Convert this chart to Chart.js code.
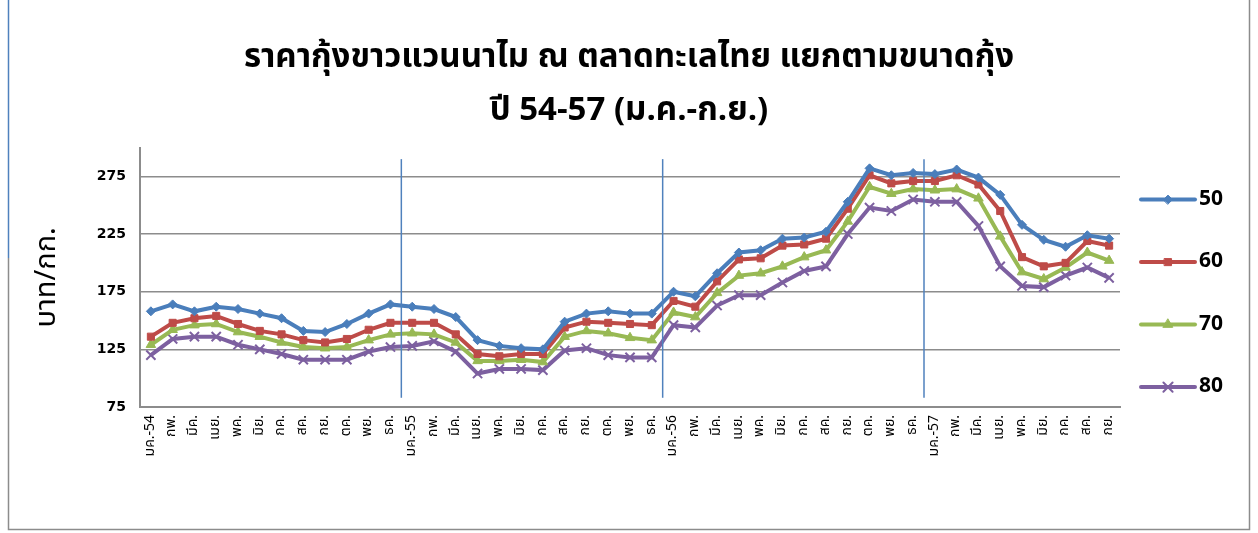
<!DOCTYPE html>
<html><head><meta charset="utf-8">
<script src="https://cdn.jsdelivr.net/npm/chart.js@4.4.1/dist/chart.umd.min.js"></script>
<style>html,body{margin:0;padding:0;background:#fff}#wrap{width:1258px;height:533px;position:relative}</style>
</head><body><div id="wrap"><canvas id="c" width="1258" height="533"></canvas></div>
<script>
const categories = ['มค.-54','กพ.','มีค.','เมย.','พค.','มิย.','กค.','สค.','กย.','ตค.','พย.','ธค.',
  'มค.-55','กพ.','มีค.','เมย.','พค.','มิย.','กค.','สค.','กย.','ตค.','พย.','ธค.',
  'มค.-56','กพ.','มีค.','เมย.','พค.','มิย.','กค.','สค.','กย.','ตค.','พย.','ธค.',
  'มค.-57','กพ.','มีค.','เมย.','พค.','มิย.','กค.','สค.','กย.'];
const seriesNames = ['50','60','70','80'];
const size50 = [158,164,158,162,160,156,152,141,140,147,156,164, 162,160,153,133,128,126,125,149,156,158,156,156, 175,171,191,209,211,221,222,227,253,282,276,278, 277,281,274,259,233,220,214,224,221];
const size60 = [136,148,152,154,147,141,138,133,131,134,142,148, 148,148,138,121,119,121,121,144,149,148,147,146, 167,162,184,203,204,215,216,221,247,276,269,271, 271,276,268,245,205,197,200,219,215];
const size70 = [129,142,146,147,140,136,131,127,126,127,133,138, 139,138,131,115,115,116,114,136,141,139,135,133, 157,153,174,189,191,197,205,211,236,266,260,264, 263,264,256,223,192,186,196,209,202];
const size80 = [120,134,136,136,129,125,121,116,116,116,123,127, 128,132,123,104,108,108,107,124,126,120,118,118, 146,144,163,172,172,183,193,197,225,248,245,255, 253,253,232,197,180,179,189,196,187];
const yTicks = [75,125,175,225,275];
const titleLines = ['ราคากุ้งขาวแวนนาไม ณ ตลาดทะเลไทย แยกตามขนาดกุ้ง','ปี 54-57 (ม.ค.-ก.ย.)'];
const yAxisTitle = 'บาท/กก.';
const yearStartIdx = [12,24,36];

const FONT = '"Noto Sans Thai","Noto Sans","DejaVu Sans",sans-serif';
const colors = ['#4A7EBB','#BE4B48','#98B954','#7D60A0'];
const styles = [
  {pointStyle:'rectRot', radius:4.5, bw:1},
  {pointStyle:'rect', radius:5, bw:1},
  {pointStyle:'triangle', radius:5.5, bw:1},
  {pointStyle:'crossRot', radius:6.5, bw:2}
];
const seriesData = [size50,size60,size70,size80];

const framePlugin = {
  id:'frame',
  beforeDraw(chart){
    const ctx = chart.ctx;
    ctx.save();
    ctx.fillStyle = '#fff';
    ctx.fillRect(0,0,chart.width,chart.height);
    ctx.lineWidth = 1.5;
    ctx.strokeStyle = '#8c8c8c';
    ctx.beginPath();
    ctx.moveTo(8.5,258); ctx.lineTo(8.5,529.5); ctx.lineTo(1249.5,529.5); ctx.lineTo(1249.5,0);
    ctx.stroke();
    ctx.strokeStyle = '#4F81BD';
    ctx.beginPath(); ctx.moveTo(8.5,0); ctx.lineTo(8.5,258); ctx.stroke();
    ctx.restore();
  }
};
const sepPlugin = {
  id:'sep',
  afterDatasetsDraw(chart){
    const {ctx, scales:{x,y}} = chart;
    ctx.save();
    ctx.strokeStyle = '#4F81BD';
    ctx.lineWidth = 1.5;
    yearStartIdx.forEach(i=>{
      const px = (x.getPixelForValue(i-1)+x.getPixelForValue(i))/2;
      ctx.beginPath();
      ctx.moveTo(px, y.getPixelForValue(290));
      ctx.lineTo(px, y.getPixelForValue(83));
      ctx.stroke();
    });
    ctx.restore();
  }
};
const legendPlugin = {
  id:'customLegend',
  afterDraw(chart){
    const ctx = chart.ctx, ca = chart.chartArea;
    ctx.save();
    chart.data.datasets.forEach((ds,i)=>{
      const cy = ca.top + 52 + i*62.5;
      const x0 = ca.right + 21, x1 = ca.right + 75;
      ctx.strokeStyle = ds.borderColor; ctx.lineWidth = 4; ctx.lineCap='round';
      ctx.beginPath(); ctx.moveTo(x0,cy); ctx.lineTo(x1,cy); ctx.stroke();
      ctx.fillStyle = ds.borderColor; ctx.strokeStyle = ds.borderColor;
      ctx.lineWidth = styles[i].bw;
      Chart.helpers.drawPoint(ctx,{pointStyle:styles[i].pointStyle, radius:styles[i].radius, borderWidth:styles[i].bw, rotation:0},(x0+x1)/2,cy);
      ctx.fillStyle = '#000';
      ctx.font = 'bold 21px ' + FONT;
      ctx.textBaseline = 'middle'; ctx.textAlign='left';
      ctx.fillText(ds.label, x1 + 4, cy + 1);
    });
    ctx.restore();
  }
};

new Chart(document.getElementById('c'), {
  type:'line',
  data:{
    labels: categories,
    datasets: seriesNames.map((n,i)=>({
      label:n, data:seriesData[i], yAxisID:'y',
      borderColor:colors[i], backgroundColor:colors[i],
      borderWidth:4, pointStyle:styles[i].pointStyle, pointRadius:styles[i].radius,
      pointBorderWidth:styles[i].bw, pointBackgroundColor:colors[i], pointBorderColor:colors[i],
      tension:0, fill:false
    }))
  },
  options:{
    responsive:false, animation:false, devicePixelRatio:1,
    layout:{padding:{left:8,right:8,top:8,bottom:66}},
    plugins:{
      legend:{display:false},
      tooltip:{enabled:false},
      title:{display:true, text:titleLines, color:'#000',
        font:{family:FONT,size:33,weight:'bold',lineHeight:1.6}, padding:{top:26,bottom:8}}
    },
    scales:{
      x:{
        offset:true,
        grid:{display:false, drawTicks:false},
        border:{display:true,color:'#8c8c8c',width:2},
        ticks:{autoSkip:false,maxRotation:90,minRotation:90,padding:8,color:'#000',font:{family:FONT,size:14}},
        afterFit(s){ s.height = 60; }
      },
      y:{
        min:75,max:300,
        afterBuildTicks(s){ s.ticks = yTicks.map(v=>({value:v})); },
        grid:{color:'#8c8c8c',lineWidth:1.5,drawTicks:false},
        border:{display:true,color:'#8c8c8c',width:2},
        ticks:{padding:14,color:'#000',font:{family:'"DejaVu Sans",sans-serif',size:14,weight:'bold'}},
        title:{display:true,text:yAxisTitle,color:'#000',font:{family:FONT,size:29},padding:{top:24,bottom:0}},
        afterFit(s){ s.width = 132; }
      },
      yRight:{
        position:'right', min:75, max:300,
        grid:{display:false, drawTicks:false},
        border:{display:false},
        ticks:{display:false},
        afterFit(s){ s.width = 130; }
      }
    }
  },
  plugins:[framePlugin,sepPlugin,legendPlugin]
});
</script></body></html>
